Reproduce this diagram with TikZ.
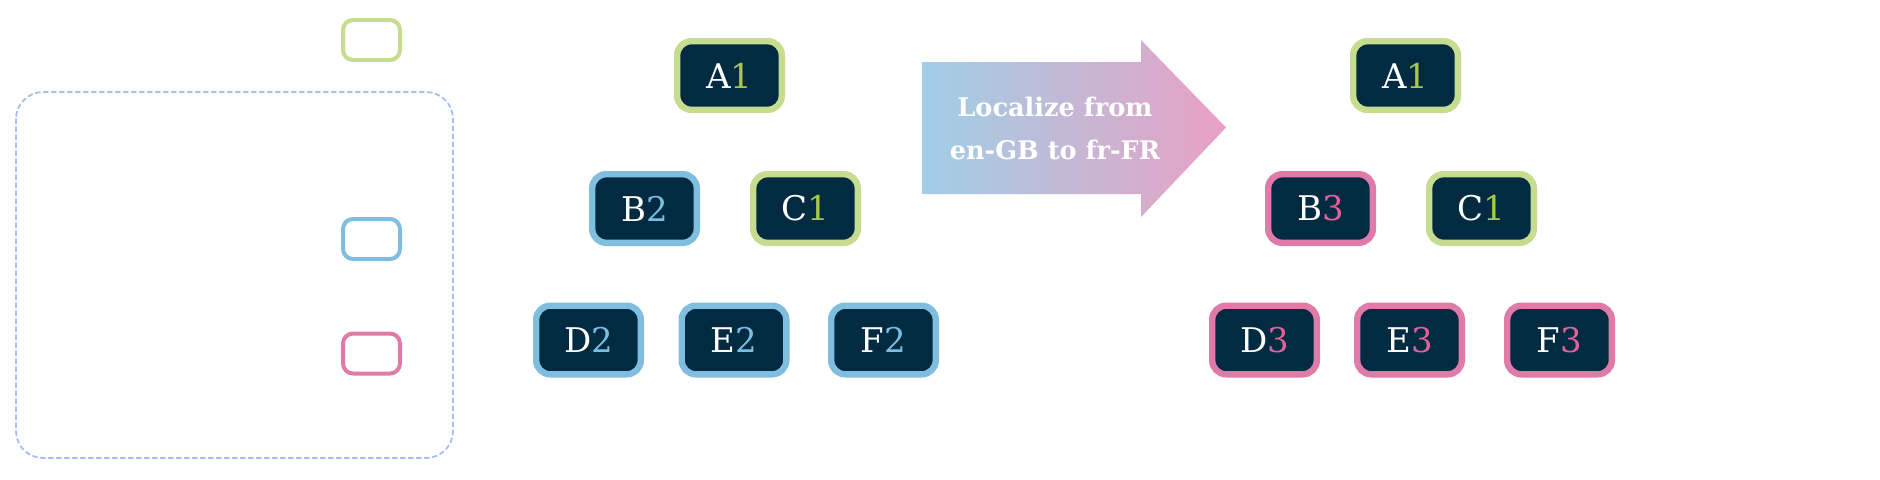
\documentclass[tikz,border=0pt]{standalone}
\usepackage{fontspec}
\setmainfont{DejaVu Serif}
\usepackage{xcolor}
\definecolor{navy}{RGB}{2,43,66}
\definecolor{grnline}{RGB}{198,220,142}
\definecolor{bluline}{RGB}{127,190,222}
\definecolor{pnkline}{RGB}{224,122,168}
\definecolor{grndig}{RGB}{168,200,72}
\definecolor{bludig}{RGB}{122,190,226}
\definecolor{pnkdig}{RGB}{226,96,156}
\definecolor{dashcol}{RGB}{168,190,240}
\definecolor{arrleft}{RGB}{160,207,230}
\definecolor{arrright}{RGB}{233,160,196}
\tikzset{
    lab/.style={
        font=\fontsize{17}{20}\selectfont
    }
}

\begin{document}
\begin{tikzpicture}[x=0.5pt,y=-0.5pt, line cap=round, line join=round]

\tikzset{
  tnode/.style={draw=#1, fill=navy, line width=3.2pt, rounded corners=7pt,
    minimum width=52.3pt, minimum height=34.3pt, inner sep=0pt, text=white, lab},
  key/.style={draw=#1, line width=2pt, rounded corners=5pt,
    minimum width=28.5pt, minimum height=20pt, inner sep=0pt},
  arrlab/.style={text=white, align=center, font=\bfseries\fontsize{12.8}{21.5}\selectfont},
}

\useasboundingbox (0,0) rectangle (1880,479);

% legend
\draw[dashcol, line width=0.9pt, dash pattern=on 2.2pt off 1.8pt, rounded corners=13.5pt]
  (16,92) rectangle (453,458);
\node[key=grnline] (kgrn) at (371.5,40) {};
\node[key=bluline] (kblu) at (371.5,239) {};
\node[key=pnkline] (kpnk) at (371.5,353.5) {};

% tree before
\node[tnode=grnline] (lA) at (729.5,75.5) {A\textcolor{grndig}{1}};
\node[tnode=bluline] (lB) at (644.5,208.5) {B\textcolor{bludig}{2}};
\node[tnode=grnline] (lC) at (805.5,208.5) {C\textcolor{grndig}{1}};
\node[tnode=bluline] (lD) at (588.5,340) {D\textcolor{bludig}{2}};
\node[tnode=bluline] (lE) at (734,340) {E\textcolor{bludig}{2}};
\node[tnode=bluline] (lF) at (883.5,340) {F\textcolor{bludig}{2}};

% arrow
\shade[left color=arrleft, right color=arrright]
  (922,62) -- (1141,62) -- (1141,40) -- (1226,127.5) -- (1141,217)
  -- (1141,194) -- (922,194) -- cycle;
\node[arrlab] (step) at (1055,128.5) {Localize from\\en-GB to fr-FR};

% tree after
\node[tnode=grnline] (rA) at (1405.5,75.5) {A\textcolor{grndig}{1}};
\node[tnode=pnkline] (rB) at (1320.5,208.5) {B\textcolor{pnkdig}{3}};
\node[tnode=grnline] (rC) at (1481.5,208.5) {C\textcolor{grndig}{1}};
\node[tnode=pnkline] (rD) at (1264.5,340) {D\textcolor{pnkdig}{3}};
\node[tnode=pnkline] (rE) at (1409.5,340) {E\textcolor{pnkdig}{3}};
\node[tnode=pnkline] (rF) at (1559.5,340) {F\textcolor{pnkdig}{3}};

\end{tikzpicture}
\end{document}
